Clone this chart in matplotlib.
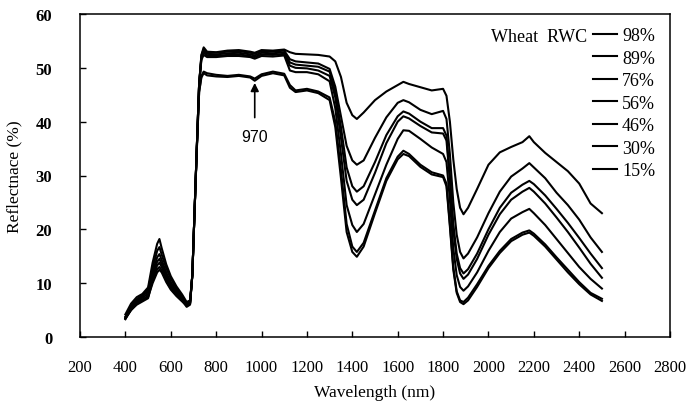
import matplotlib
matplotlib.use("Agg")
import matplotlib.pyplot as plt
from matplotlib.lines import Line2D

plt.rcParams['font.family'] = ['Liberation Serif', 'DejaVu Serif']

# wavelength grid (nm): visible | red edge | NIR plateau | SWIR-1 | SWIR-2
wavelength = ([400, 425, 450, 475, 500, 520, 540, 550, 560, 580, 600, 625, 650, 670, 685] +
              [695, 705, 715, 725, 735, 745, 760] +
              [800, 850, 900, 950, 970, 1000, 1050, 1100, 1125, 1150, 1200, 1250, 1300] +
              [1325, 1350, 1375, 1400, 1420, 1450, 1500, 1550, 1600, 1625, 1650, 1700, 1750, 1800] +
              [1815, 1830, 1845, 1860, 1875, 1890, 1910, 1950, 2000, 2050, 2100, 2150, 2180, 2200,
               2250, 2300, 2350, 2400, 2450, 2500])

rwc_labels = ['98%', '89%', '76%', '56%', '46%', '30%', '15%']

refl_98 = ([3.8, 5.2, 6.2, 6.8, 7.4, 10.0, 12.0, 12.5, 12.0, 10.2, 8.8, 7.6, 6.6, 5.8, 6.2] +
           [11.5, 23.5, 35.5, 47.0, 52.4, 53.8, 53.0] +
           [52.9, 53.2, 53.3, 53.0, 52.8, 53.3, 53.2, 53.4, 52.9, 52.6, 52.5, 52.4, 52.1] +
           [51.2, 48.3, 43.5, 41.2, 40.5, 41.7, 44.0, 45.6, 46.8, 47.4, 47.0, 46.4, 45.8, 46.1] +
           [44.8, 40.0, 33.0, 27.5, 24.0, 22.8, 24.0, 27.5, 32.0, 34.3, 35.3, 36.2, 37.3, 36.2,
            34.2, 32.5, 30.8, 28.5, 24.8, 23.0])

refl_89 = ([3.5, 5.0, 6.0, 6.6, 7.2, 10.5, 12.6, 13.0, 12.4, 10.5, 9.0, 7.8, 6.8, 5.6, 6.0] +
           [11.5, 23.5, 35.5, 47.0, 52.3, 53.5, 52.8] +
           [52.8, 53.0, 53.1, 52.8, 52.6, 53.1, 53.0, 53.2, 51.6, 51.2, 51.0, 50.8, 49.8] +
           [46.5, 41.0, 35.5, 32.8, 32.0, 32.8, 37.0, 40.8, 43.5, 44.0, 43.6, 42.2, 41.4, 42.0] +
           [40.5, 34.0, 25.0, 19.0, 15.8, 14.6, 15.5, 18.5, 23.0, 27.0, 29.8, 31.3, 32.3, 31.5,
            29.5, 26.8, 24.5, 21.8, 18.5, 15.8])

refl_76 = ([3.4, 5.0, 6.2, 7.0, 7.6, 11.0, 13.3, 13.8, 13.0, 11.0, 9.4, 8.0, 7.0, 5.8, 6.2] +
           [11.5, 23.5, 35.5, 47.0, 52.0, 53.1, 52.6] +
           [52.5, 52.7, 52.8, 52.5, 52.3, 52.8, 52.7, 52.9, 51.0, 50.6, 50.4, 50.2, 49.3] +
           [45.5, 39.0, 31.5, 28.0, 27.0, 28.0, 32.5, 37.5, 41.0, 41.9, 41.5, 40.0, 38.8, 38.8] +
           [37.4, 30.0, 21.0, 15.5, 12.8, 11.8, 12.6, 15.5, 20.0, 24.0, 26.8, 28.3, 29.0, 28.4,
            26.3, 23.8, 21.2, 18.4, 15.5, 12.8])

refl_56 = ([3.3, 5.2, 6.5, 7.3, 8.0, 11.5, 14.0, 14.5, 13.6, 11.5, 9.8, 8.3, 7.2, 6.0, 6.3] +
           [11.5, 23.5, 35.5, 47.0, 51.8, 52.8, 52.3] +
           [52.2, 52.4, 52.5, 52.2, 52.0, 52.5, 52.4, 52.6, 50.4, 50.0, 49.9, 49.5, 48.5] +
           [44.5, 37.0, 29.0, 25.5, 24.5, 25.5, 30.5, 36.0, 40.0, 41.0, 40.6, 39.2, 38.0, 37.8] +
           [36.5, 29.0, 20.0, 14.5, 11.8, 10.8, 11.6, 14.5, 19.0, 22.8, 25.5, 27.0, 27.7, 27.0,
            24.8, 22.2, 19.5, 16.6, 13.6, 11.0])

refl_46 = ([3.5, 5.5, 6.8, 7.6, 8.4, 12.0, 14.8, 15.4, 14.3, 12.0, 10.2, 8.6, 7.4, 6.0, 6.4] +
           [11.5, 23.5, 35.5, 47.0, 51.5, 52.4, 52.0] +
           [52.0, 52.2, 52.2, 52.0, 51.7, 52.2, 52.1, 52.3, 49.5, 49.2, 49.2, 48.8, 47.5] +
           [42.5, 34.0, 24.5, 20.8, 19.5, 21.0, 26.5, 32.0, 36.8, 38.4, 38.3, 36.8, 35.2, 34.0] +
           [32.5, 25.5, 16.5, 11.5, 9.3, 8.6, 9.4, 12.0, 16.0, 19.5, 22.0, 23.2, 23.8, 23.0,
            20.8, 18.2, 15.6, 13.0, 10.8, 9.0])

refl_30 = ([3.6, 5.8, 7.0, 7.8, 8.8, 12.8, 16.0, 16.7, 15.3, 12.8, 10.8, 9.0, 7.6, 6.2, 6.6] +
           [11.5, 23.5, 35.0, 45.5, 48.5, 49.3, 49.0] +
           [48.7, 48.5, 48.7, 48.4, 48.0, 48.8, 49.3, 48.9, 46.8, 45.8, 46.1, 45.6, 44.5] +
           [40.0, 31.0, 21.0, 16.8, 15.8, 17.5, 23.5, 29.5, 33.5, 34.6, 34.0, 32.0, 30.6, 30.0] +
           [28.5, 21.0, 13.0, 8.5, 6.8, 6.5, 7.3, 9.8, 13.2, 16.0, 18.2, 19.4, 19.8, 19.2,
            17.2, 14.8, 12.5, 10.2, 8.2, 7.1])

refl_15 = ([4.2, 6.2, 7.4, 8.0, 9.2, 13.8, 17.3, 18.2, 16.5, 13.5, 11.3, 9.4, 7.9, 6.5, 6.8] +
           [11.5, 23.5, 35.0, 45.5, 48.2, 49.0, 48.6] +
           [48.4, 48.3, 48.5, 48.2, 47.6, 48.5, 49.0, 48.6, 46.3, 45.5, 45.8, 45.3, 44.0] +
           [39.0, 29.5, 19.5, 15.8, 14.9, 16.8, 23.0, 29.0, 33.0, 34.0, 33.6, 31.6, 30.2, 29.7] +
           [28.0, 20.5, 12.5, 8.2, 6.5, 6.1, 6.8, 9.3, 12.8, 15.6, 17.8, 19.0, 19.4, 18.8,
            16.8, 14.4, 12.0, 9.8, 7.9, 6.7])

curves = [refl_98, refl_89, refl_76, refl_56, refl_46, refl_30, refl_15]

fig = plt.figure(figsize=(6.98, 4.10), dpi=100)
ax = fig.add_axes([80 / 698, 1 - 338 / 410, 590 / 698, 323 / 410])

for refl in curves:
    ax.plot(wavelength, refl, color='black', lw=1.5)

ax.set_xlim(200, 2800)
ax.set_ylim(0, 60)
ax.set_xticks(range(200, 2801, 200))
ax.set_yticks(range(0, 61, 10))
ax.tick_params(direction='in', length=4, width=1, labelsize=12)
ax.tick_params(axis='x', pad=16)
ax.tick_params(axis='y', pad=20)
for lab in ax.get_yticklabels():
    lab.set_fontweight('bold')
for s in ax.spines.values():
    s.set_linewidth(1.1)

ax.set_xlabel('Wavelength (nm)', fontsize=12.5)
ax.xaxis.set_label_coords(0.5, -47 / 323)
ax.set_ylabel('Reflectnace (%)', fontsize=12.5)
ax.yaxis.set_label_coords(-58 / 590, 0.5)

# water absorption feature marker
ax.annotate('970', xy=(970, 47.2), xytext=(970, 37.3), ha='center', va='center',
            fontsize=11.5, family=['Liberation Sans', 'DejaVu Sans'],
            arrowprops=dict(arrowstyle='-|>', color='black', lw=1.2, mutation_scale=12,
                            shrinkA=6, shrinkB=0))

handles = [Line2D([], [], color='black', lw=1.5) for _ in rwc_labels]
leg = fig.legend(handles, rwc_labels, loc='upper left', bbox_to_anchor=(593 / 698, 1 - 28 / 410),
                 frameon=False, fontsize=13, handlelength=1.33, handletextpad=0.28,
                 labelspacing=0.305, borderpad=0, borderaxespad=0)
fig.text(587 / 698, 1 - 37 / 410, 'Wheat  RWC', ha='right', va='center', fontsize=13)

fig.savefig('out.png', dpi=100)
